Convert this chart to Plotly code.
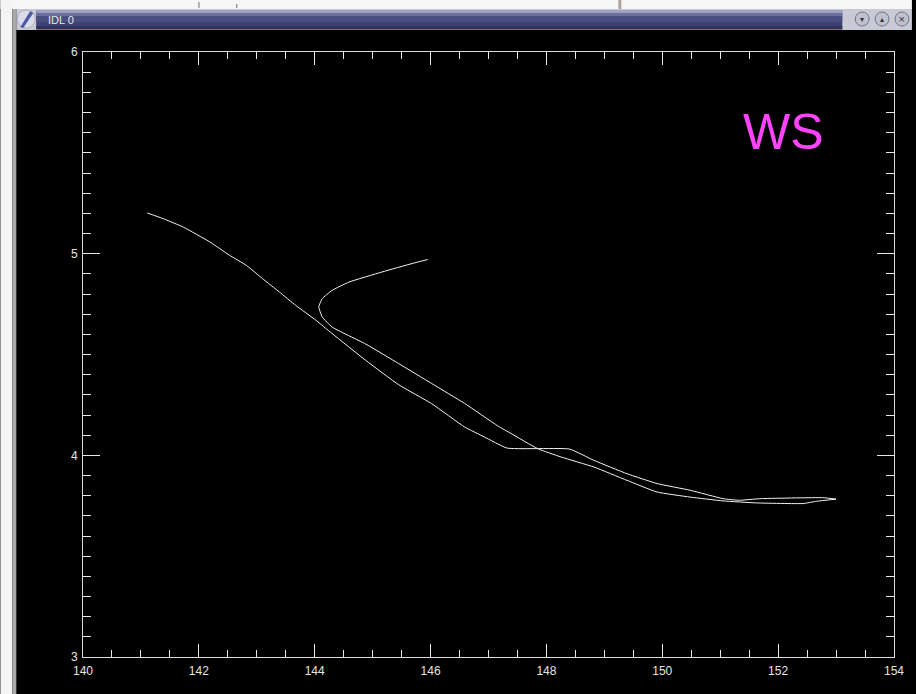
import plotly.graph_objects as go

# Branch A: the long track starting near 141E
a_x = [141.11, 141.38, 141.73, 142.19, 142.53, 142.82, 143.10, 143.39, 143.67,
       144.02, 144.30, 144.88, 145.45, 146.02, 146.59, 146.93, 147.32, 148.40,
       148.82, 149.39, 149.91, 150.48, 151.05, 151.33, 151.68, 152.77, 153.00]
a_y = [5.202, 5.174, 5.132, 5.058, 4.992, 4.942, 4.876, 4.810, 4.744,
       4.670, 4.604, 4.471, 4.350, 4.256, 4.140, 4.091, 4.036, 4.031,
       3.975, 3.909, 3.860, 3.827, 3.785, 3.777, 3.785, 3.790, 3.783]

# Branch B: the hooked track starting near 146E
b_x = [145.95, 145.68, 145.16, 144.59, 144.30, 144.13, 144.07, 144.13, 144.30,
       144.88, 145.45, 146.02, 146.59, 147.16, 147.39, 147.85, 148.25, 148.82,
       149.39, 149.91, 150.48, 151.05, 151.63, 152.43, 152.66, 153.00]
b_y = [4.971, 4.951, 4.909, 4.859, 4.818, 4.777, 4.736, 4.686, 4.636,
       4.552, 4.455, 4.356, 4.257, 4.146, 4.108, 4.033, 3.992, 3.942,
       3.876, 3.818, 3.793, 3.774, 3.764, 3.761, 3.772, 3.783]

x_ticks = [140, 142, 144, 146, 148, 150, 152, 154]
y_ticks = [3, 4, 5, 6]
label_text = "WS"
window_title = "IDL 0"

# plot-area geometry in pixels
W, H = 916, 694
L, R, T, B = 83, 18, 52, 37
PW, PH = W - L - R, H - T - B


def px(x):
    return (x - L) / PW


def py(y):
    return 1 - (y - T) / PH


fig = go.Figure()
for xs, ys in ((a_x, a_y), (b_x, b_y)):
    fig.add_trace(go.Scatter(x=xs, y=ys, mode="lines",
                             line=dict(color="#f2f2f2", width=1,
                                       shape="spline", smoothing=0.4),
                             showlegend=False, hoverinfo="skip"))

axis_common = dict(
    showgrid=False, zeroline=False, showline=True, linecolor="#dcdcdc",
    linewidth=1, mirror="allticks", ticks="inside", tickcolor="#e8e8e8",
    tickwidth=1, tickfont=dict(family="Liberation Sans", size=12, color="#e4e4e4"),
)

fig.update_xaxes(range=[140, 154], tickvals=x_ticks,
                 ticktext=[str(v) for v in x_ticks], ticklen=13,
                 ticklabelstandoff=3,
                 minor=dict(dtick=0.5, ticks="inside", ticklen=7,
                            tickcolor="#e8e8e8", tickwidth=1, showgrid=False),
                 **axis_common)
fig.update_yaxes(range=[3, 6], tickvals=y_ticks,
                 ticktext=[str(v) for v in y_ticks], ticklen=17,
                 ticklabelstandoff=2,
                 minor=dict(dtick=0.1, ticks="inside", ticklen=8,
                            tickcolor="#e8e8e8", tickwidth=1, showgrid=False),
                 **axis_common)

shapes = []


def rect(x0, y0, x1, y1, fill):
    shapes.append(dict(type="rect", xref="paper", yref="paper",
                       x0=px(x0), x1=px(x1), y0=py(y1), y1=py(y0),
                       fillcolor=fill, line=dict(width=0), layer="above"))


def circle(cx, cy, r, fill, line):
    shapes.append(dict(type="circle", xref="paper", yref="paper",
                       x0=px(cx - r), x1=px(cx + r), y0=py(cy + r), y1=py(cy - r),
                       fillcolor=fill, line=dict(width=1, color=line),
                       layer="above"))


# desktop strips around the window
rect(0, 0, W, 9, "#f6f6f6")
rect(0, 0, 12, H, "#f4f4f4")
rect(12, 9, 16, H, "#a8a8a8")
rect(199, 2, 200, 8, "#707070")
rect(237, 4, 238, 8, "#707070")
rect(621, 0, 624, 9, "#b0a0a0")

# window title bar
rect(16, 9, W, 30, "#c9cad6")
rect(36, 10, 846, 29, "#3d4270")
rect(36, 10, 846, 13, "#9ea2c0")
rect(36, 13, 846, 16, "#6a6f9c")
rect(36, 16, 846, 22, "#4a4f82")
rect(36, 26, 846, 29, "#2e3260")
rect(36, 29, 846, 30, "#8a6a6a")

# window icon
circle(26, 19, 9, "#dcdce8", "#b0b0c8")
shapes.append(dict(type="path", xref="paper", yref="paper", layer="above",
                   path=f"M {px(20)},{py(27)} L {px(30)},{py(11)} "
                        f"L {px(33)},{py(13)} L {px(23)},{py(28)} Z",
                   fillcolor="#4a5aa8", line=dict(width=0)))

# title-bar buttons
for cx in (866, 886, 906):
    circle(cx, 19, 7, "#bfc2cc", "#70748a")

fig.update_layout(
    width=W, height=H,
    margin=dict(l=L, r=R, t=T, b=B),
    paper_bgcolor="black", plot_bgcolor="black",
    shapes=shapes,
    annotations=[
        dict(text=label_text, xref="paper", yref="paper", x=px(787), y=py(132),
             xanchor="center", yanchor="middle", showarrow=False,
             font=dict(family="Liberation Sans", size=50, color="#ff44ff")),
        dict(text=window_title, xref="paper", yref="paper", x=px(46), y=py(20),
             xanchor="left", yanchor="middle", showarrow=False,
             font=dict(family="Liberation Sans", size=11, color="#e6e6f2")),
        dict(text="▾", xref="paper", yref="paper", x=px(866), y=py(19),
             xanchor="center", yanchor="middle", showarrow=False,
             font=dict(family="DejaVu Sans", size=8, color="#303040")),
        dict(text="▴", xref="paper", yref="paper", x=px(886), y=py(19),
             xanchor="center", yanchor="middle", showarrow=False,
             font=dict(family="DejaVu Sans", size=8, color="#303040")),
        dict(text="×", xref="paper", yref="paper", x=px(906), y=py(19),
             xanchor="center", yanchor="middle", showarrow=False,
             font=dict(family="DejaVu Sans", size=9, color="#303040")),
    ],
)

fig.write_html("out.html")
